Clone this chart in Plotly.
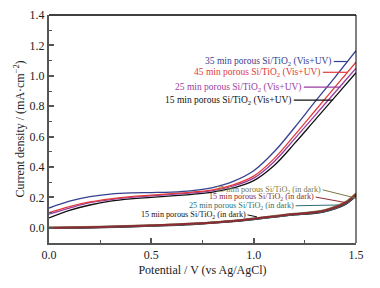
import plotly.graph_objects as go

# ---- data ----
potential = [0.0, 0.1, 0.2, 0.3, 0.4, 0.5, 0.6, 0.7, 0.8, 0.9, 1.0, 1.1, 1.2, 1.3, 1.4, 1.5]
j35_light = [0.13, 0.175, 0.205, 0.222, 0.23, 0.232, 0.235, 0.245, 0.265, 0.305, 0.375, 0.50, 0.66, 0.83, 0.995, 1.165]
j45_light = [0.10, 0.14, 0.17, 0.19, 0.205, 0.215, 0.225, 0.235, 0.25, 0.283, 0.34, 0.455, 0.61, 0.77, 0.93, 1.09]
j25_light = [0.09, 0.13, 0.165, 0.185, 0.20, 0.21, 0.22, 0.23, 0.245, 0.275, 0.327, 0.435, 0.585, 0.74, 0.895, 1.05]
j15_light = [0.065, 0.115, 0.15, 0.175, 0.19, 0.20, 0.21, 0.22, 0.235, 0.262, 0.31, 0.41, 0.555, 0.71, 0.865, 1.02]

potential_dark = [0.0, 0.25, 0.5, 0.7, 0.9, 1.0, 1.1, 1.2, 1.3, 1.35, 1.4, 1.45, 1.5]
j35_dark = [0.002, 0.007, 0.016, 0.028, 0.047, 0.062, 0.077, 0.092, 0.105, 0.118, 0.14, 0.17, 0.225]
j15b_dark = [0.0, 0.005, 0.015, 0.026, 0.045, 0.06, 0.075, 0.09, 0.102, 0.114, 0.135, 0.165, 0.22]
j25_dark = [-0.001, 0.004, 0.014, 0.025, 0.044, 0.058, 0.073, 0.088, 0.1, 0.111, 0.13, 0.16, 0.215]
j15_dark = [-0.002, 0.003, 0.013, 0.024, 0.043, 0.057, 0.072, 0.087, 0.098, 0.109, 0.128, 0.158, 0.212]

x_ticks = [0.0, 0.5, 1.0, 1.5]
x_ticklabels = ["0.0", "0.5", "1.0", "1.5"]
y_ticks = [0.0, 0.2, 0.4, 0.6, 0.8, 1.0, 1.2, 1.4]
y_ticklabels = ["0.0", "0.2", "0.4", "0.6", "0.8", "1.0", "1.2", "1.4"]

TI = "Si/TiO<sub>2</sub>"
light_labels = [f"35 min porous {TI} (Vis+UV)", f"45 min porous {TI} (Vis+UV)",
                f"25 min porous {TI} (Vis+UV)", f"15 min porous {TI} (Vis+UV)"]
dark_labels = [f"35 min porous {TI} (in dark)", f"15 min porous {TI} (in dark)",
               f"25 min porous {TI} (in dark)", f"15 min porous {TI} (in dark)"]

# label anchor (text right end) and leader end points, in data units
light_label_x = [1.387, 1.334, 1.241, 1.192]
light_label_y = [1.094, 1.023, 0.925, 0.840]
light_lead_x = [1.455, 1.456, 1.425, 1.385]
light_lead_y = [1.094, 1.023, 0.925, 0.840]
dark_label_x = [1.334, 1.300, 1.202, 0.967]
dark_label_y = [0.250, 0.202, 0.145, 0.085]
dark_lead_x = [1.500, 1.454, 1.412, 1.016]
dark_lead_y = [0.195, 0.165, 0.150, 0.072]

light_colors = ["#35408f", "#e23a3a", "#9a3ea0", "#111111"]
dark_colors = ["#7a7a45", "#8e2a35", "#2f6f70", "#111111"]

FONT = "Liberation Serif"

fig = go.Figure()

dark_series = [j35_dark, j15b_dark, j25_dark, j15_dark]
for idx in [3, 2, 0, 1]:
    fig.add_trace(go.Scatter(x=potential_dark, y=dark_series[idx], mode="lines",
                             line=dict(color=dark_colors[idx], width=2, shape="spline"),
                             showlegend=False, hoverinfo="skip"))

light_series = [j35_light, j45_light, j25_light, j15_light]
for idx in [3, 2, 1, 0]:
    fig.add_trace(go.Scatter(x=potential, y=light_series[idx], mode="lines",
                             line=dict(color=light_colors[idx], width=1.3, shape="spline"),
                             showlegend=False, hoverinfo="skip"))

annotations = []
shapes = []
for lbl, lx, ly, ex, ey, c in zip(light_labels, light_label_x, light_label_y, light_lead_x, light_lead_y, light_colors):
    annotations.append(dict(x=lx, y=ly, xref="x", yref="y", text=lbl, showarrow=False,
                            xanchor="right", yanchor="middle", borderpad=0,
                            font=dict(family=FONT, size=9.5, color=c)))
    shapes.append(dict(type="line", xref="x", yref="y", x0=lx + 0.004, y0=ly, x1=ex, y1=ey,
                       line=dict(color=c, width=1.2)))
for lbl, lx, ly, ex, ey, c in zip(dark_labels, dark_label_x, dark_label_y, dark_lead_x, dark_lead_y, dark_colors):
    annotations.append(dict(x=lx, y=ly, xref="x", yref="y", text=lbl, showarrow=False,
                            xanchor="right", yanchor="middle", borderpad=0,
                            font=dict(family=FONT, size=8.2, color=c)))
    shapes.append(dict(type="line", xref="x", yref="y", x0=lx + 0.003, y0=ly, x1=ex, y1=ey,
                       line=dict(color=c, width=1)))

# top and right frame lines
shapes.append(dict(type="line", xref="paper", yref="paper", x0=0, y0=1, x1=1, y1=1,
                   line=dict(color="black", width=1.5)))
shapes.append(dict(type="line", xref="paper", yref="paper", x0=1, y0=0, x1=1, y1=1,
                   line=dict(color="black", width=1)))

fig.update_layout(
    width=372, height=280,
    margin=dict(l=41, r=24, t=7, b=45, autoexpand=False),
    paper_bgcolor="white", plot_bgcolor="white",
    font=dict(family=FONT, size=12, color="#222222"),
    annotations=annotations, shapes=shapes,
    xaxis=dict(range=[0, 1.5], tickvals=x_ticks, ticktext=x_ticklabels, automargin=False,
               showgrid=False, zeroline=False, showline=True, linecolor="#555555", linewidth=2,
               ticks="inside", ticklen=5, tickwidth=1.5, tickcolor="#555555",
               minor=dict(ticks="inside", ticklen=3, tickwidth=1, tickcolor="#555555", dtick=0.25),
               tickfont=dict(family=FONT, size=12, color="#222222"),
               title=dict(text="Potential / V (vs Ag/AgCl)", font=dict(family=FONT, size=12, color="#222222"),
                          standoff=4)),
    yaxis=dict(range=[-0.1, 1.4], tickvals=y_ticks, ticktext=y_ticklabels, automargin=False,
               showgrid=False, zeroline=False, showline=True, linecolor="#555555", linewidth=2,
               ticks="inside", ticklen=5, tickwidth=1.5, tickcolor="#555555",
               minor=dict(ticks="inside", ticklen=3, tickwidth=1, tickcolor="#555555", dtick=0.1),
               tickfont=dict(family=FONT, size=12, color="#222222"),
               title=dict(text="Current density / (mA·cm<sup>−2</sup>)",
                          font=dict(family=FONT, size=12, color="#222222"), standoff=2)),
)

fig.write_html("out.html")
